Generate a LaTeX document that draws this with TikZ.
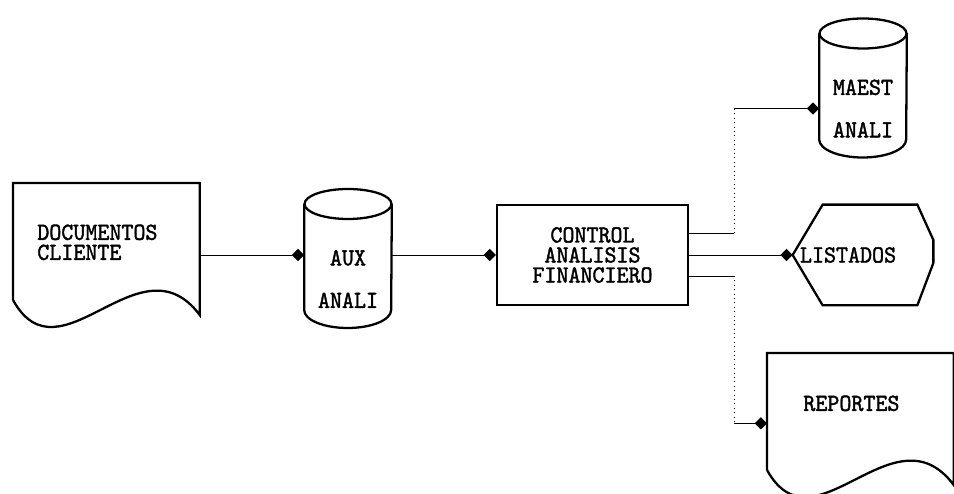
\documentclass[tikz,border=0pt]{standalone}
\usepackage{fontspec}
\newfontfamily\printfont{lmmono10-regular.otf}[FakeStretch = 0.93, FakeBold = 1.5]
\usetikzlibrary{arrows.meta}

\begin{document}
\begin{tikzpicture}[
    outline/.style = {line width = 1.3pt},
    link/.style = {line width = 0.5pt},
    flow/.style = {line width = 0.5pt, -{Kite[length = 7pt, width = 7pt, inset = 3.5pt]}},
    dotline/.style = {line width = 0.5pt, dotted},
    box/.style = {inner sep = 0pt, font = \printfont\fontsize{14pt}{11.4pt}\selectfont}
  ]
    \useasboundingbox (0, 0) rectangle (19.08, 9.88);

    % draw nodes
    \node[box, anchor = north west, text width = 2.76cm, inner xsep = 0.48cm, minimum height = 2.36cm, align = left]
        (docs) at (0.26, 6.22) {DOCUMENTOS\\CLIENTE};
    \node[box, minimum width = 1.74cm, align = center] (aux) at (6.96, 4.30) {AUX\\[0.45cm]ANALI};
    \node[box, draw, outline, minimum width = 3.82cm, minimum height = 2.0cm, align = center]
        (ctrl) at (11.85, 4.78) {CONTROL\\ANALISIS\\FINANCIERO};
    \node[box, minimum width = 1.74cm, align = center] (maest) at (17.26, 7.71) {MAEST\\[0.45cm]ANALI};
    \node[box, text width = 2.52cm, inner xsep = 0.14cm, minimum height = 2.0cm, align = left]
        (list) at (17.26, 4.78) {LISTADOS};
    \node[box, anchor = north west, text width = 2.28cm, inner xsep = 0.72cm, minimum height = 2.0cm, align = left]
        (rep) at (15.34, 2.82) {REPORTES};


    % draw document outlines
    \foreach \n in {docs, rep}
        \draw[outline] ([yshift = -2.34cm]\n.north west) -- (\n.north west) -- (\n.north east)
            -- ([yshift = -2.64cm]\n.north east)
            .. controls ([xshift = 2.54cm, yshift = -1.04cm]\n.north west)
            and ([xshift = 0.94cm, yshift = -4.04cm]\n.north west) .. ([yshift = -2.34cm]\n.north west);

    % draw file outlines
    \foreach \n in {aux, maest} {
        \draw[outline] ([yshift = 1.5cm]\n.west) -- ([yshift = -0.62cm]\n.west)
            arc[start angle = 180, end angle = 360, x radius = 0.87cm, y radius = 0.36cm]
            -- ([yshift = 1.5cm]\n.east);
        \draw[outline] ([yshift = 1.5cm]\n.center) ellipse [x radius = 0.87cm, y radius = 0.3cm];
    }

    % draw display outline
    \draw[outline] (list.west) -- ([xshift = 0.6cm]list.north west) -- ([xshift = -0.32cm]list.north east)
        -- ([yshift = 0.3cm]list.east) -- ([yshift = -0.16cm]list.east)
        -- ([xshift = -0.32cm]list.south east) -- ([xshift = 0.6cm]list.south west) -- cycle;


    % draw main flow
    \draw[flow] (docs.east |- ctrl.west) -- (aux.west |- ctrl.west);
    \draw[flow] (aux.east |- ctrl.west) -- (ctrl.west);
    \draw[flow] (ctrl.east) -- (list.west);

    % draw branches
    \coordinate (riser) at (14.68, 4.78);
    \coordinate (outtop) at ([yshift = 0.44cm]ctrl.east);
    \coordinate (outbot) at ([yshift = -0.42cm]ctrl.east);
    \coordinate (inrep) at ([yshift = -0.4cm]rep.west);

    \draw[link] (outtop) -- (outtop -| riser);
    \draw[dotline] (outtop -| riser) -- (riser |- maest.west);
    \draw[flow] (riser |- maest.west) -- (maest.west);

    \draw[link] (outbot) -- (outbot -| riser);
    \draw[dotline] (outbot -| riser) -- (riser |- inrep);
    \draw[flow] (riser |- inrep) -- (inrep);

\end{tikzpicture}
\end{document}
